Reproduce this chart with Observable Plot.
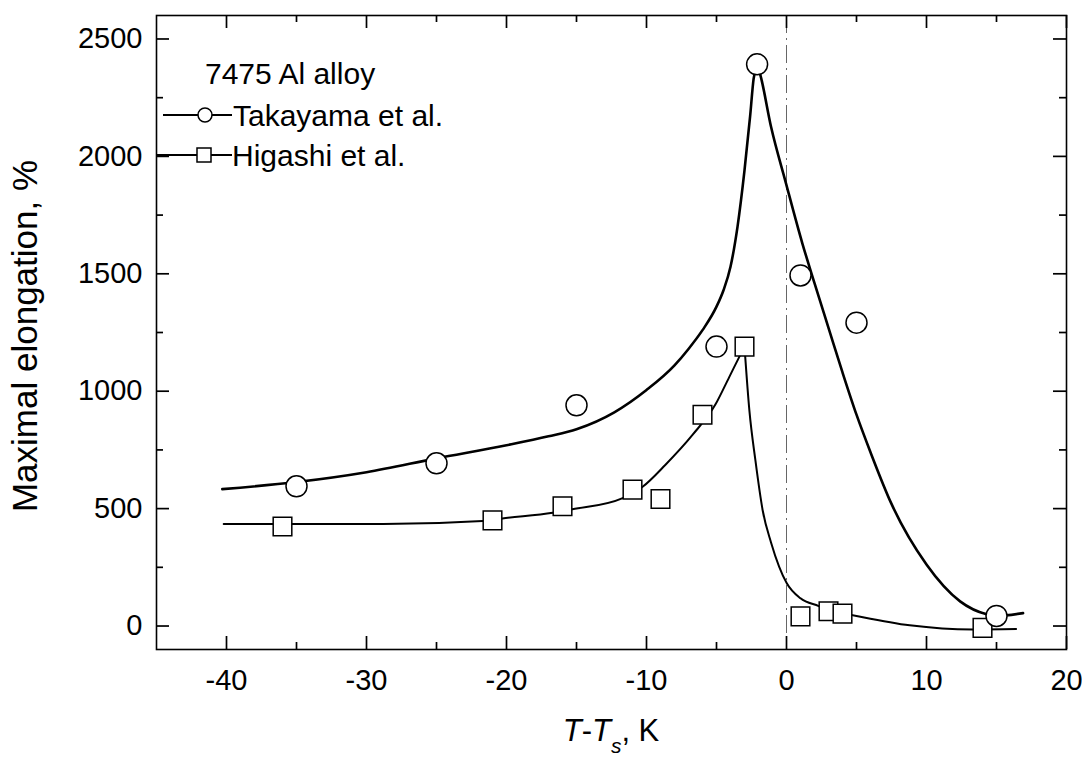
<!DOCTYPE html>
<html><head><meta charset="utf-8">
<script src="https://cdn.jsdelivr.net/npm/d3@7"></script>
<script src="https://cdn.jsdelivr.net/npm/@observablehq/plot@0.6"></script>
<style>body{margin:0;background:#fff} svg{display:block}</style>
</head><body><div id="chart"></div>
<script>
// Measured points
const takaX = [-35, -25, -15, -5, -2.1, 1.0, 5.0, 15];
const takaY = [595, 693, 940, 1190, 2392, 1493, 1292, 43];
const higX = [-36, -21, -16, -11, -9, -6, -3, 1, 3, 4, 14];
const higY = [424, 450, 510, 581, 541, 900, 1190, 41, 63, 53, -8];

// Fitted curves, left and right branch of each cusp
const takaLeftX = [-40.3, -35, -30, -25, -20, -17, -15, -12.3, -10, -8, -7, -6, -5, -4.5, -4, -3.5, -3, -2.6, -2.35, -2.1];
const takaLeftY = [583, 613, 655, 714, 770, 808, 838, 910, 1005, 1110, 1180, 1260, 1360, 1430, 1530, 1700, 1940, 2170, 2330, 2392];
const takaRightX = [-2.1, -1.86, -1.1, -0.08, 1.13, 2, 3, 4, 5, 6, 7.5, 10, 12.4, 14.3, 15, 16.9];
const takaRightY = [2392, 2345, 2125, 1895, 1630, 1460, 1270, 1080, 900, 740, 520, 262, 105, 50, 43, 55];
const higLeftX = [-40.2, -36, -28.8, -21.7, -20.3, -16.7, -15.3, -11.7, -10.3, -8.66, -6.7, -5.07, -4.1, -3.39, -3.0];
const higLeftY = [434, 434, 434, 447, 458, 482, 497, 545, 592, 686, 815, 944, 1059, 1144, 1190];
const higRightX = [-3.0, -2.65, -2.22, -1.7, -1.1, 0.02, 1.0, 2.3, 3, 4, 5, 8.8, 13.3, 16.4];
const higRightY = [1190, 917, 705, 492, 355, 182, 118, 85, 68, 55, 43, 3, -15, -13];

// Axis ticks
const xMajor = [-40, -30, -20, -10, 0, 10, 20];
const xMinor = [-35, -25, -15, -5, 5, 15];
const yMajor = [0, 500, 1000, 1500, 2000, 2500];
const yMinor = [250, 750, 1250, 1750, 2250];

const W = 1082, H = 767, ML = 156, MR = 16, MT = 15, MB = 118;
const plotW = W - ML - MR, plotH = H - MT - MB;

const idx = a => d3.range(a.length);
const curve = (xs, ys, w) => Plot.line(idx(xs), {x: xs, y: ys, stroke: "black", strokeWidth: w, curve: "monotone-x"});

// inward tick marks: full-span ticks cut down with insets
const tickX = (vals, side, len) => Plot.tickX(vals, {x: d => d, stroke: "black", strokeWidth: 1.7,
  insetTop: side === "bottom" ? plotH - len : 0, insetBottom: side === "top" ? plotH - len : 0});
const tickY = (vals, side, len) => Plot.tickY(vals, {y: d => d, stroke: "black", strokeWidth: 1.7,
  insetRight: side === "left" ? plotW - len : 0, insetLeft: side === "right" ? plotW - len : 0});

const svg = Plot.plot({
  width: W, height: H,
  marginLeft: ML, marginRight: MR, marginTop: MT, marginBottom: MB,
  x: {domain: [-45, 20]},
  y: {domain: [-100, 2600]},
  style: {fontFamily: "'Liberation Sans', Arial, sans-serif", fontSize: "29px", color: "black", background: "white", overflow: "visible"},
  marks: [
    Plot.ruleX([0], {stroke: "#666", strokeWidth: 1, strokeDasharray: "18,5,2,5"}),
    curve(takaLeftX, takaLeftY, 2.6),
    curve(takaRightX, takaRightY, 2.6),
    curve(higLeftX, higLeftY, 2),
    curve(higRightX, higRightY, 2),
    Plot.dot(idx(higX), {x: higX, y: higY, symbol: "square", r: 10.5, stroke: "black", fill: "white", strokeWidth: 1.5}),
    Plot.dot(idx(takaX), {x: takaX, y: takaY, r: 10.5, stroke: "black", fill: "white", strokeWidth: 1.5}),
    Plot.axisX(xMajor, {anchor: "bottom", tickSize: 0, tickPadding: 20, label: null, tickFormat: d => String(d)}),
    Plot.axisY(yMajor, {anchor: "left", tickSize: 0, tickPadding: 14, label: null, tickFormat: d => String(d)}),
    tickX(xMajor, "bottom", 13), tickX(xMinor, "bottom", 7),
    tickX(xMajor, "top", 13), tickX(xMinor, "top", 7),
    tickY(yMajor, "left", 13), tickY(yMinor, "left", 7),
    tickY(yMajor, "right", 13), tickY(yMinor, "right", 7),
    Plot.frame({stroke: "black", strokeWidth: 1.6})
  ]
});

const s = d3.select(svg);
// Axis titles
s.append("text")
  .attr("transform", "translate(37,336) rotate(-90)")
  .attr("text-anchor", "middle")
  .attr("fill", "black")
  .style("font-size", "35px")
  .text("Maximal elongation, %");
const xl = s.append("text").attr("x", 611).attr("y", 741).attr("text-anchor", "middle").attr("fill", "black").style("font-size", "31px");
xl.append("tspan").attr("font-style", "italic").text("T");
xl.append("tspan").text("-");
xl.append("tspan").attr("font-style", "italic").text("T");
xl.append("tspan").attr("font-style", "italic").attr("font-size", "21px").attr("dy", 12).text("s");
xl.append("tspan").attr("dy", -12).text(", K");

// Legend
const lg = s.append("g").attr("fill", "black").attr("text-anchor", "start").style("font-size", "30px");
lg.append("text").attr("x", 205).attr("y", 84).text("7475 Al alloy");
lg.append("line").attr("x1", 163).attr("x2", 232).attr("y1", 115).attr("y2", 115).attr("stroke", "black").attr("stroke-width", 2);
lg.append("circle").attr("cx", 205).attr("cy", 115).attr("r", 7).attr("fill", "white").attr("stroke", "black").attr("stroke-width", 1.5);
lg.append("text").attr("x", 233).attr("y", 126).text("Takayama et al.");
lg.append("line").attr("x1", 157).attr("x2", 232).attr("y1", 155).attr("y2", 155).attr("stroke", "black").attr("stroke-width", 2);
lg.append("rect").attr("x", 197).attr("y", 148).attr("width", 14).attr("height", 14).attr("fill", "white").attr("stroke", "black").attr("stroke-width", 1.5);
lg.append("text").attr("x", 232).attr("y", 166).text("Higashi et al.");

document.getElementById("chart").appendChild(svg);
</script>
</body></html>
